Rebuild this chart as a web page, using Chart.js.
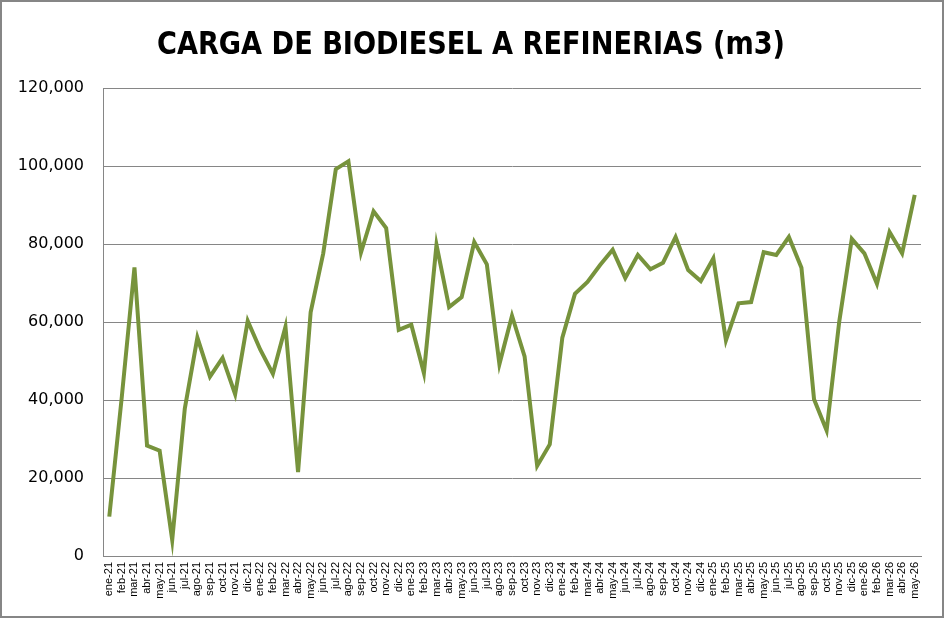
<!DOCTYPE html>
<html>
<head>
<meta charset="utf-8">
<script src="https://cdn.jsdelivr.net/npm/chart.js@4"></script>
<style>
  html, body { margin: 0; padding: 0; background: #fff; }
  #wrap { width: 944px; height: 618px; position: relative; }
</style>
</head>
<body>
<div id="wrap"><canvas id="chart"></canvas></div>
<script>
const years = ['21', '22', '23', '24', '25', '26'];
const months = ['ene', 'feb', 'mar', 'abr', 'may', 'jun', 'jul', 'ago', 'sep', 'oct', 'nov', 'dic'];

// carga mensual en m3, ene-21 .. may-26
const carga2021 = [10100, 41000, 74000, 28300, 27000, 4100, 37800, 56000, 46000, 50800, 41500, 60300];
const carga2022 = [52900, 46700, 58800, 21500, 62500, 77600, 99200, 101200, 77800, 88400, 84100, 58000];
const carga2023 = [59300, 46900, 79800, 63800, 66400, 80500, 74800, 49200, 61600, 51200, 23100, 28600];
const carga2024 = [56000, 67200, 70300, 74600, 78500, 71300, 77200, 73500, 75200, 81800, 73300, 70500];
const carga2025 = [76300, 55300, 64800, 65100, 77900, 77200, 81800, 73900, 40200, 32200, 60000, 81300];
const carga2026 = [77600, 69800, 83100, 77600, 92600];

const yTicks = [0, 20000, 40000, 60000, 80000, 100000, 120000];
const titulo = 'CARGA DE BIODIESEL A REFINERIAS (m3)';

const valores = [].concat(carga2021, carga2022, carga2023, carga2024, carga2025, carga2026);
const etiquetas = [];
years.forEach(y => months.forEach(m => etiquetas.push(m + '-' + y)));
etiquetas.length = valores.length;

// borde exterior y titulo
const marco = {
  id: 'marco',
  afterDraw(chart) {
    const ctx = chart.ctx;
    ctx.save();
    ctx.strokeStyle = '#868686';
    ctx.lineWidth = 2;
    ctx.strokeRect(1, 1, chart.width - 2, chart.height - 2);
    ctx.fillStyle = '#000';
    ctx.textAlign = 'center';
    ctx.textBaseline = 'alphabetic';
    let size = 36;
    ctx.font = 'bold ' + size + 'px "Liberation Sans Narrow", "DejaVu Sans Condensed", sans-serif';
    const w = ctx.measureText(titulo).width;
    size = size * 628 / w;
    ctx.font = 'bold ' + size.toFixed(1) + 'px "Liberation Sans Narrow", "DejaVu Sans Condensed", sans-serif';
    ctx.translate(471, 54);
    ctx.scale(1, 1.08);
    ctx.fillText(titulo, 0, 0);
    ctx.restore();
  }
};

new Chart(document.getElementById('chart').getContext('2d'), {
  type: 'line',
  data: {
    labels: etiquetas,
    datasets: [{
      label: 'Carga',
      data: valores,
      borderColor: '#77933C',
      borderWidth: 4,
      pointRadius: 0,
      tension: 0,
      fill: false
    }]
  },
  options: {
    responsive: true,
    maintainAspectRatio: false,
    animation: false,
    layout: { padding: { top: 88, right: 23, bottom: 0, left: 0 } },
    plugins: {
      legend: { display: false },
      title: { display: false },
      tooltip: { enabled: false }
    },
    scales: {
      x: {
        offset: true,
        grid: { display: false, drawTicks: false },
        border: { display: true, color: '#868686', width: 1 },
        ticks: {
          autoSkip: false,
          maxRotation: 90,
          minRotation: 90,
          padding: 6,
          color: '#000',
          font: { family: '"Liberation Sans", Arial, sans-serif', size: 11 }
        },
        afterFit(scale) { scale.height = 62; }
      },
      y: {
        min: 0,
        max: 120000,
        afterBuildTicks(scale) { scale.ticks = yTicks.map(v => ({ value: v })); },
        grid: { color: '#868686', lineWidth: 1, drawTicks: false },
        border: { display: true, color: '#868686', width: 1 },
        ticks: {
          padding: 19,
          color: '#000',
          font: { family: '"DejaVu Sans", sans-serif', size: 16 },
          callback: v => v.toLocaleString('en-US')
        },
        afterFit(scale) { scale.width = 103; }
      }
    }
  },
  plugins: [marco]
});
</script>
</body>
</html>
